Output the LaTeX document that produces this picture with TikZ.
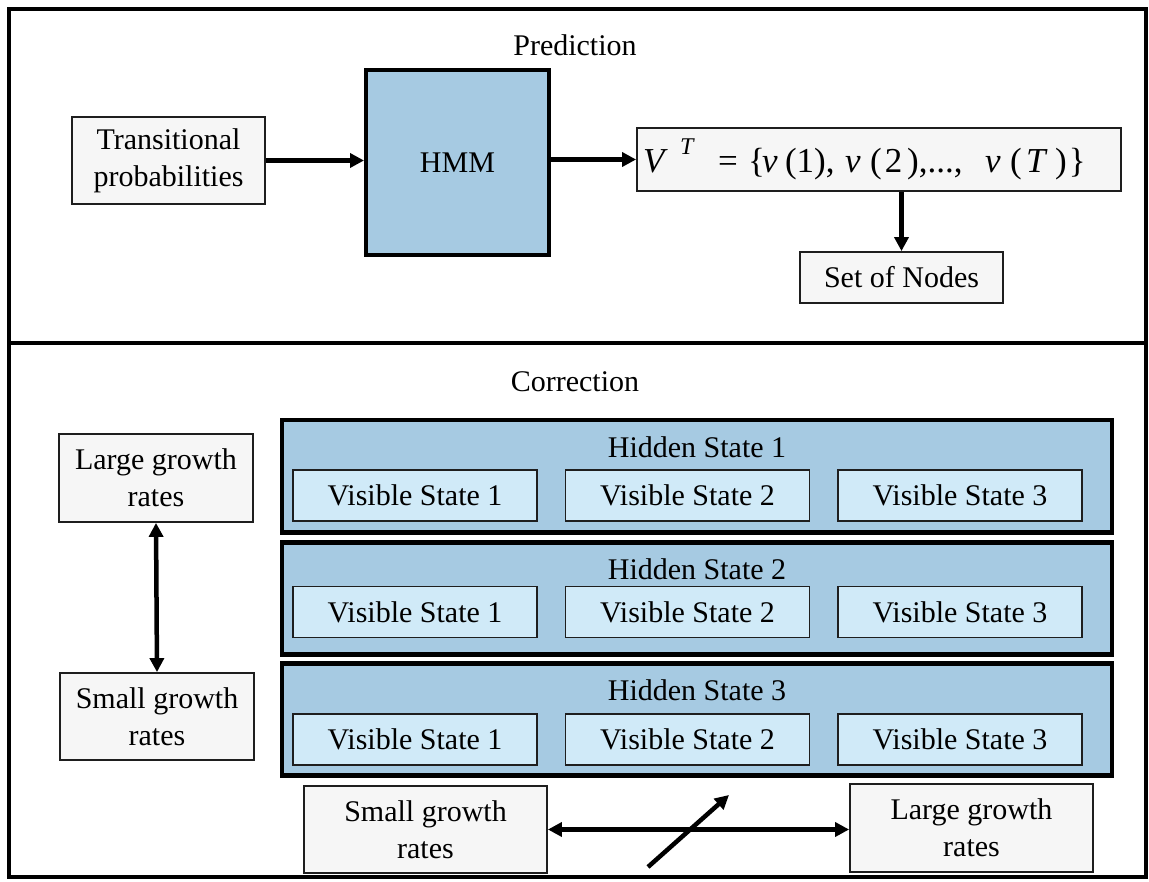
\documentclass[tikz,border=0pt]{standalone}
\usepackage{fontspec}
\setmainfont{Liberation Serif}
\usetikzlibrary{arrows.meta}
\definecolor{hmmblue}{RGB}{166,202,226}
\definecolor{vsblue}{RGB}{208,234,248}
\definecolor{boxgray}{RGB}{246,246,246}
\definecolor{inkline}{RGB}{30,30,30}
\newcommand{\seg}[2]{\makebox[#1pt][l]{#2}}
\tikzset{
  txt/.style={font=\fontsize{30}{37}\selectfont, align=center, inner sep=0pt},
  plainbox/.style={txt, draw=inkline, line width=1.8pt, fill=boxgray},
  hmmbox/.style={txt, draw=black, line width=4pt, fill=hmmblue},
  hiddenbox/.style={draw=black, line width=4.5pt, fill=hmmblue, inner sep=0pt},
  visbox/.style={txt, draw=inkline, line width=1.8pt, fill=vsblue,
    minimum width=244pt, minimum height=51pt},
  arr/.style={line width=4.5pt, -{Triangle[length=14pt,width=14pt]}},
  dblarr/.style={line width=4.5pt, {Triangle[length=14pt,width=14pt]}-{Triangle[length=14pt,width=14pt]}},
  frameline/.style={line width=4pt, draw=black}
}
\begin{document}
\begin{tikzpicture}[x=1pt,y=-1pt]
\useasboundingbox (0,0) rectangle (1149,882);
\fill[white] (0,0) rectangle (1149,882);

% panel frame
\draw[frameline] (9,9) rectangle (1146,877);
\draw[frameline] (9,343) -- (1146,343);

% ---- prediction panel ----
\node[txt] (ptitle) at (575,45) {Prediction};
\node[plainbox, minimum width=193pt, minimum height=87pt] (tp) at (168.5,160.5)
  {Transitional\\probabilities};
\node[hmmbox, minimum width=183pt, minimum height=185pt] (hmm) at (457.5,162.5) {HMM};
% the output sequence, set piece by piece
\node[plainbox, font=\fontsize{35}{38}\selectfont, minimum width=484pt, minimum height=63pt] (vt) at (879,159.5)
  {\makebox[478pt][l]{\hspace{3pt}%
   \seg{37}{\textit{V}}%
   \seg{38}{\raisebox{0.5em}{\fontsize{24}{24}\selectfont\textit{T}}}%
   \seg{30}{=}%
   \seg{14}{\{}%
   \seg{23}{\textit{ν}}%
   \seg{60}{(1),}%
   \seg{25}{\textit{ν}}%
   \seg{15}{(}%
   \seg{22}{2}%
   \seg{12}{)}%
   \seg{66}{,...,}%
   \seg{25}{\textit{ν}}%
   \seg{16}{(}%
   \seg{29}{\textit{T}}%
   \seg{14}{)}%
   \}}};
\node[plainbox, minimum width=203pt, minimum height=51pt] (sn) at (901.5,277.5) {Set of Nodes};

\draw[arr] (tp.east) -- (tp.east -| hmm.west);
\draw[arr] (hmm.east |- vt.west) -- (vt.west);
\draw[arr] (sn.north |- vt.south) -- (sn.north);

% ---- correction panel ----
\node[txt] (ctitle) at (575,382) {Correction};

\node[plainbox, minimum width=194pt, minimum height=88pt] (lgl) at (156,478) {Large growth\\rates};
\node[plainbox, minimum width=194pt, minimum height=87pt] (sgl) at (157,716.5) {Small growth\\rates};
\draw[dblarr] (lgl.south) -- (sgl.north);

% hidden states with their visible states
\foreach \i/\top/\vy in {1/418/495.5, 2/540/612, 3/661/739.5}{
  \node[hiddenbox, minimum width=830pt, minimum height=112pt, anchor=north] (hs\i) at (697,\top) {};
  \node[txt] (ht\i) at (697,\top+29) {Hidden State \i};
  \node[visbox] (v\i1) at (415,\vy) {Visible State 1};
  \node[visbox] (v\i2) at (687.5,\vy) {Visible State 2};
  \node[visbox] (v\i3) at (960,\vy) {Visible State 3};
}

\node[plainbox, minimum width=243pt, minimum height=87pt] (sgb) at (425.5,829.5) {Small growth\\rates};
\node[plainbox, minimum width=243pt, minimum height=88pt] (lgb) at (971.5,828) {Large growth\\rates};
\draw[dblarr] (sgb.east) -- (sgb.east -| lgb.west);

\coordinate (d0) at (648,867);
\coordinate (d1) at (729,795);
\draw[arr] (d0) -- (d1);
\end{tikzpicture}
\end{document}
